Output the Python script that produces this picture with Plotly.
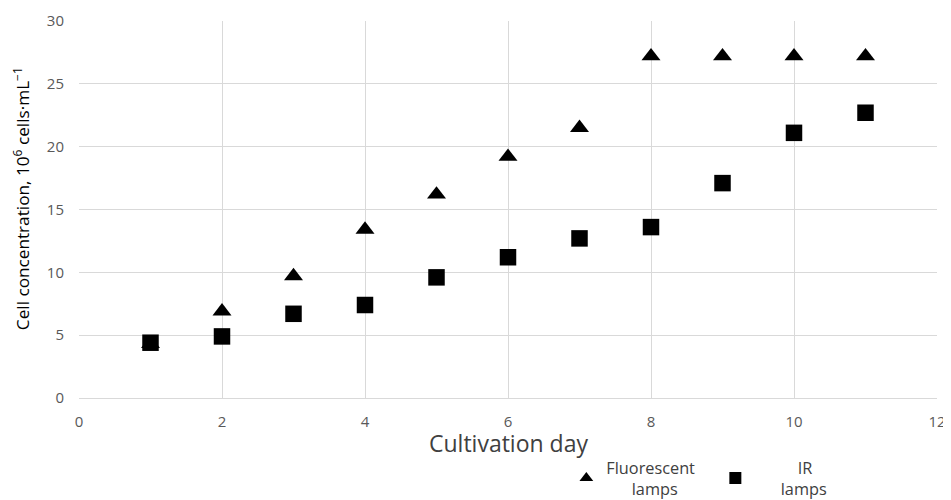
import plotly.graph_objects as go

days = [1, 2, 3, 4, 5, 6, 7, 8, 9, 10, 11]
fluorescent = [4.3, 6.9, 9.7, 13.4, 16.2, 19.2, 21.5, 27.2, 27.2, 27.2, 27.2]
ir = [4.4, 4.9, 6.7, 7.4, 9.6, 11.2, 12.7, 13.6, 17.1, 21.1, 22.7]

x_ticks = [0, 2, 4, 6, 8, 10, 12]
y_ticks = [0, 5, 10, 15, 20, 25, 30]

x_title = "Cultivation day"
y_title = "Cell concentration, 10<sup>6</sup> cells·mL<sup>−1</sup>"

font_family = "Open Sans, Liberation Sans, sans-serif"
nb = "&nbsp;"

fig = go.Figure()
fig.add_trace(go.Scatter(
    x=days, y=fluorescent, mode="markers",
    name="Fluorescent<br>" + nb * 6 + "lamps",
    marker=dict(symbol="triangle-up", size=16.5, color="black"),
))
fig.add_trace(go.Scatter(
    x=days, y=ir, mode="markers",
    name=nb * 10 + "IR<br>" + nb * 6 + "lamps",
    marker=dict(symbol="square", size=16.5, color="black"),
))

# page body has an 8px margin, so shift the figure's margins to compensate
fig.update_layout(
    width=951, height=500,
    margin=dict(l=71, r=22, t=13, b=110, autoexpand=False),
    paper_bgcolor="white", plot_bgcolor="white",
    font=dict(family=font_family, color="#595959", size=15),
    showlegend=True,
    legend=dict(
        orientation="h", x=0.568, y=-0.139, xanchor="left", yanchor="top",
        font=dict(size=16.3, color="#404040"), itemsizing="constant",
        entrywidth=104, entrywidthmode="pixels",
    ),
    xaxis=dict(
        range=[0, 12], tickvals=x_ticks, ticktext=[str(v) for v in x_ticks],
        showgrid=True, gridcolor="#d9d9d9", gridwidth=1,
        showline=True, linecolor="#d9d9d9", zeroline=False,
        ticks="", tickfont=dict(size=15, color="#595959"), ticklabelstandoff=10,
    ),
    yaxis=dict(
        range=[0, 30], tickvals=y_ticks, ticktext=[str(v) for v in y_ticks],
        showgrid=True, gridcolor="#d9d9d9", gridwidth=1,
        showline=False, zeroline=False, ticks="",
        tickfont=dict(size=15, color="#595959"), ticklabelstandoff=14,
    ),
    annotations=[
        dict(text=x_title, xref="paper", yref="paper", x=0.5, y=-0.1194,
             xanchor="center", yanchor="middle", showarrow=False,
             font=dict(size=23, color="#404040", family=font_family)),
        dict(text=y_title, xref="paper", yref="paper", x=-0.0676, y=0.53,
             xanchor="center", yanchor="middle", showarrow=False, textangle=-90,
             font=dict(size=17.2, color="#000000", family=font_family)),
    ],
)

fig.write_html("out.html")
